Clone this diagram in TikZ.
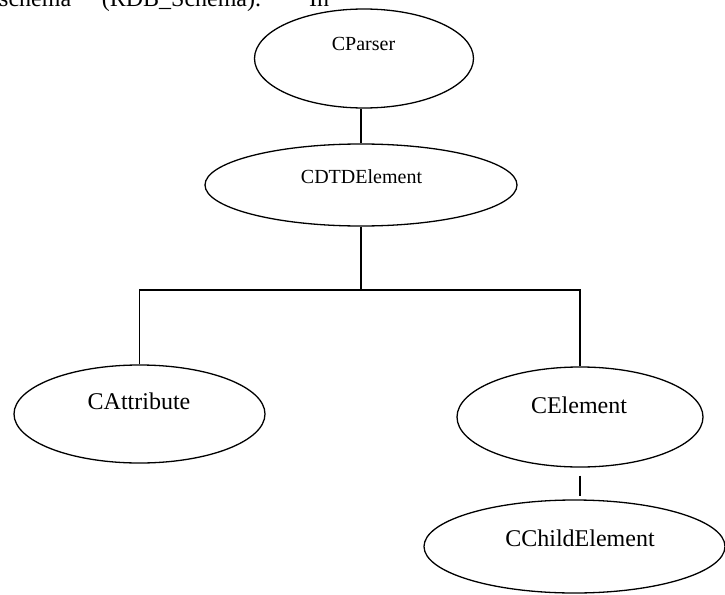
\documentclass[tikz,border=0pt]{standalone}
\usepackage{fontspec}
\setmainfont{Liberation Serif}
\usetikzlibrary{shapes.geometric}
\begin{document}
\begin{tikzpicture}[x=1pt,y=-1pt,
  oval/.style={ellipse, draw, line width=1.3pt, inner sep=0pt},
  conn/.style={line width=1.2pt},
  smalltxt/.style={font=\fontsize{20}{24}\selectfont, inner sep=0pt, anchor=base},
  bigtxt/.style={font=\fontsize{24}{28}\selectfont, inner sep=0pt, anchor=base}]
\useasboundingbox (0,0) rectangle (725,594);
\clip (0,0) rectangle (725,594);
% cropped line of running text at the top
\node[font=\fontsize{24}{28}\selectfont, inner sep=0pt, anchor=base west] (hdr) at (-1,6.5)
  {schema”\hspace{20pt}(RDB\_Schema).\hspace{48pt}In};
% ellipses
\node[oval, minimum width=219pt, minimum height=99pt] (p) at (364,58.5) {};
\node[oval, minimum width=312pt, minimum height=82pt] (d) at (361,185) {};
\node[oval, minimum width=251pt, minimum height=98pt] (a) at (139.5,414) {};
\node[oval, minimum width=246pt, minimum height=100pt] (e) at (580,417) {};
\node[oval, minimum width=301pt, minimum height=93pt] (c) at (574.5,546.5) {};
% labels
\node[smalltxt] (pt) at (363.5,50.7) {CParser};
\node[smalltxt] (dt) at (361.5,183.3) {CDTDElement};
\node[bigtxt] (at) at (139,409) {CAttribute};
\node[bigtxt] (et) at (579,413) {CElement};
\node[bigtxt] (ct) at (580,546.7) {CChildElement};
% connectors
\coordinate (j) at (361,290);
\draw[conn] (d.north) -- (d.north |- p.south);
\draw[conn] (d.south) -- (j);
\draw[conn] (a.north) |- (j) -| (e.north);
\draw[conn, shorten <=8pt, shorten >=3pt] (e.south) -- (e.south |- c.north);
\end{tikzpicture}
\end{document}
